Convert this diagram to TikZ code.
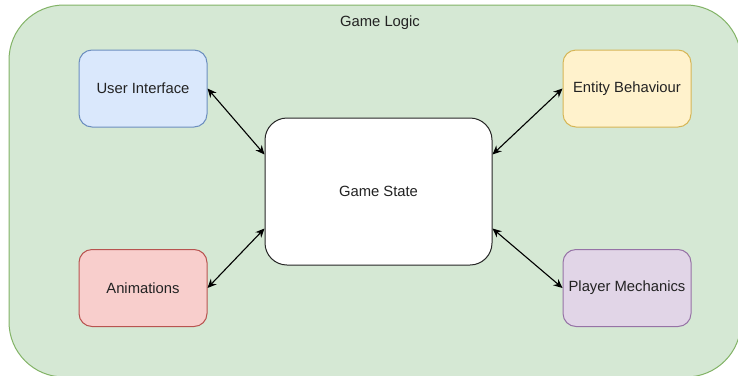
\documentclass[tikz,border=0pt]{standalone}
\usepackage{fontspec}
\setmainfont{Liberation Sans}
\usetikzlibrary{arrows.meta,calc}

\definecolor{grpfill}{HTML}{D5E8D4}
\definecolor{grpline}{HTML}{82B366}
\definecolor{bluefill}{HTML}{DAE8FC}
\definecolor{blueline}{HTML}{6C8EBF}
\definecolor{yelfill}{HTML}{FFF2CC}
\definecolor{yelline}{HTML}{D6B656}
\definecolor{redfill}{HTML}{F8CECC}
\definecolor{redline}{HTML}{B85450}
\definecolor{purfill}{HTML}{E1D5E7}
\definecolor{purline}{HTML}{9673A6}
\definecolor{txt}{HTML}{222222}

\tikzset{
  labelfont/.style={text=txt, font=\fontsize{14.8}{17}\selectfont},
  module/.style={rectangle, rounded corners=13pt, line width=1pt,
    minimum width=128pt, minimum height=77pt, inner sep=0pt, labelfont},
  link/.style={line width=1.1pt, {Stealth[length=9pt,width=8pt]}-{Stealth[length=9pt,width=8pt]}},
}

\begin{document}
\begin{tikzpicture}[x=1pt,y=-1pt]
  \useasboundingbox (0,0) rectangle (738,375);
  \begin{scope}
    \clip (0,0) rectangle (738,375);
    % container for the whole game logic
    \draw[fill=grpfill, draw=grpline, line width=1pt, rounded corners=55pt]
      (9,5) rectangle (741,377);
  \end{scope}
  \node[labelfont] (title) at (380,23) {Game Logic};

  % central state
  \node[module, fill=white, draw=black!85, rounded corners=22pt,
        minimum width=227pt, minimum height=147pt] (gs) at (378.5,191.5) {Game State};

  % surrounding modules
  \node[module, fill=bluefill, draw=blueline] (ui)   at (143,88.5)  {User Interface};
  \node[module, fill=yelfill,  draw=yelline]  (eb)   at (627,88.5)  {Entity Behaviour};
  \node[module, fill=redfill,  draw=redline]  (anim) at (143,288)   {Animations};
  \node[module, fill=purfill,  draw=purline]  (pm)   at (627,288)   {Player Mechanics};

  % attachment points on the state box
  \coordinate (gsWT) at ($(gs.north west)!0.25!(gs.south west)$);
  \coordinate (gsWB) at ($(gs.north west)!0.75!(gs.south west)$);
  \coordinate (gsET) at ($(gs.north east)!0.25!(gs.south east)$);
  \coordinate (gsEB) at ($(gs.north east)!0.75!(gs.south east)$);

  \draw[link] (ui.east)   -- (gsWT);
  \draw[link] (anim.east) -- (gsWB);
  \draw[link] (eb.west)   -- (gsET);
  \draw[link] (pm.west)   -- (gsEB);
\end{tikzpicture}
\end{document}
